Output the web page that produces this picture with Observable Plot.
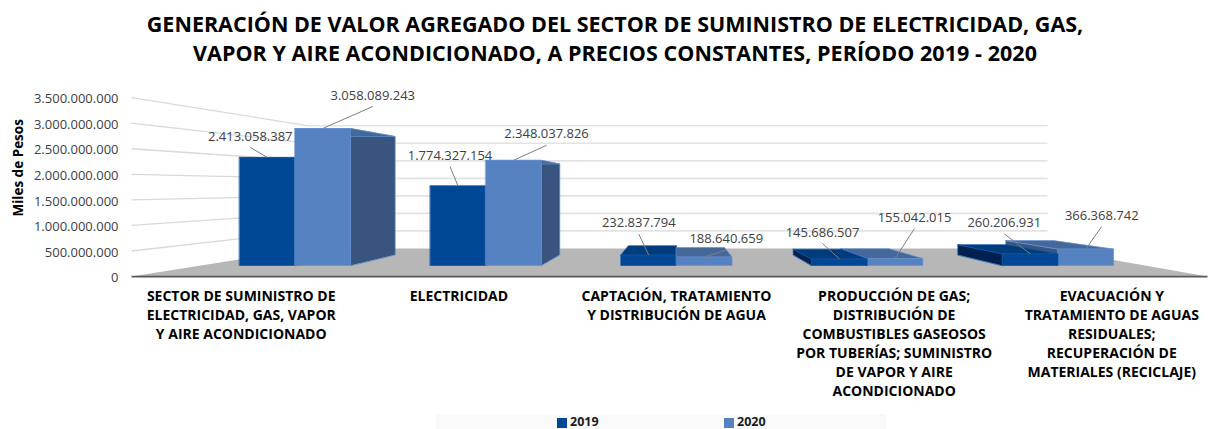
<!DOCTYPE html>
<html><head><meta charset="utf-8">
<script src="https://cdn.jsdelivr.net/npm/d3@7"></script>
<script src="https://cdn.jsdelivr.net/npm/@observablehq/plot@0.6"></script>
<style>
html,body{margin:0;padding:0;background:#fff;overflow:hidden;width:1209px;height:429px;font-family:"Open Sans",sans-serif}
#title{height:80px;box-sizing:border-box;padding-top:10px;text-align:center;font-weight:700;font-size:21.5px;line-height:28.5px;color:#000;width:1230px}
#title span{letter-spacing:.05px}
#chart{height:333px}
#chart svg{display:block}
#legend{position:absolute;left:436px;top:414px;width:450px;height:15px;background:#f9f9f9;font-weight:700;font-size:12.5px;color:#1a1a1a}
#legend span{position:absolute;top:1px;line-height:14px}
#legend i{position:absolute;top:4px;width:10px;height:10px}
</style></head>
<body>
<div id="title">GENERACIÓN DE VALOR AGREGADO DEL SECTOR DE SUMINISTRO DE ELECTRICIDAD, GAS,<br><span>VAPOR Y AIRE ACONDICIONADO, A PRECIOS CONSTANTES, PERÍODO 2019 - 2020</span></div>
<div id="chart"></div>
<div id="legend"><i style="left:121px;background:#004896"></i><span style="left:134px">2019</span><i style="left:288px;background:#5682c1"></i><span style="left:301px">2020</span></div>
<script>
const categories = [
  "SECTOR DE SUMINISTRO DE\nELECTRICIDAD, GAS, VAPOR\nY AIRE ACONDICIONADO",
  "ELECTRICIDAD",
  "CAPTACIÓN, TRATAMIENTO\nY DISTRIBUCIÓN DE AGUA",
  "PRODUCCIÓN DE GAS;\nDISTRIBUCIÓN DE\nCOMBUSTIBLES GASEOSOS\nPOR TUBERÍAS; SUMINISTRO\nDE VAPOR Y AIRE\nACONDICIONADO",
  "EVACUACIÓN Y\nTRATAMIENTO DE AGUAS\nRESIDUALES;\nRECUPERACIÓN DE\nMATERIALES (RECICLAJE)"
];
const values2019 = [2413058387, 1774327154, 232837794, 145686507, 260206931];
const values2020 = [3058089243, 2348037826, 188640659, 155042015, 366368742];
const yTicks = [0, 500000000, 1000000000, 1500000000, 2000000000, 2500000000, 3000000000, 3500000000];

// label offsets from the bar's top-centre, in pixels
const labelDx2019 = [-17, -8, -10, -17, -26];
const labelDy2019 = [-21, -30.5, -32, -26.5, -31];
const labelDx2020 = [50, 33, 22, 19.5, 16];
const labelDy2020 = [-33, -26, -18, -41, -33.6];

const fmt = d3.formatLocale({decimal: ",", thousands: ".", grouping: [3], currency: ["$", ""]}).format(",d");

// perspective: everything recedes toward the vanishing point at (category 2, half the y domain)
const vpX = 2, vpY = 1750e6;
const sAxis = 1.141, sBack = 0.782, sBar = 0.863, barW = 0.291;
const P = (x, v, s) => ({x: vpX + s * (x - vpX), y: vpY + s * (v - vpY)});
const pxPerCat = 190.75, pxPerVal = 0.0448e-6;

const wall = {frontL: -0.504, frontR: 4.44, backL: -0.467, backR: 4.487};

const colors = {
  2019: {front: "#004896", top: "#003b7c", side: "#00214f", edge: "#0f55a8"},
  2020: {front: "#5682c1", top: "#44689a", side: "#38557f", edge: "#6491d0"}
};

// faces of every bar, painted far-to-near
const faces = [];
categories.forEach((_, i) => {
  const bars = [
    {s: 2019, v: values2019[i], x0: i - barW, x1: i},
    {s: 2020, v: values2020[i], x0: i, x1: i + barW}
  ];
  if (i > vpX) bars.reverse();
  bars.forEach(b => {
    const c = colors[b.s];
    const add = (name, fill, pts) => pts.forEach(p => faces.push({id: `${i}-${b.s}-${name}`, fill, edge: c.edge, ...p}));
    const sx = b.x1 <= vpX ? b.x1 : b.x0;
    if (sx !== vpX) add("side", c.side, [P(sx, 0, 1), P(sx, b.v, 1), P(sx, b.v, sBar), P(sx, 0, sBar)]);
    add("top", c.top, [P(b.x0, b.v, 1), P(b.x1, b.v, 1), P(b.x1, b.v, sBar), P(b.x0, b.v, sBar)]);
    add("front", c.front, [P(b.x0, 0, 1), P(b.x1, 0, 1), P(b.x1, b.v, 1), P(b.x0, b.v, 1)]);
  });
});

const floor = [P(wall.frontL, 0, sAxis), P(wall.frontR, 0, sAxis), P(wall.backR, 0, sBack), P(wall.backL, 0, sBack)];
const sideGrid = yTicks.slice(1).map(v => {
  const a = P(wall.frontL, v, sAxis), b = P(wall.backL, v, sBack);
  return {x1: a.x, y1: a.y, x2: b.x, y2: b.y};
});
const backGrid = yTicks.slice(1).map(v => {
  const a = P(wall.backL, v, sBack), b = P(wall.backR, v, sBack);
  return {x1: a.x, y1: a.y, x2: b.x, y2: b.y};
});
const baseA = P(wall.frontL, 0, sAxis), baseB = P(wall.frontR, 0, sAxis);

const tickRows = yTicks.map(v => ({label: fmt(v), ...P(wall.frontL, v, sAxis)}));
const catRows = categories.map((label, i) => ({label, ...P(i, 0, sAxis)}));

const valueRows = [];
[[values2019, labelDx2019, labelDy2019, -barW / 2], [values2020, labelDx2020, labelDy2020, barW / 2]].forEach(([vals, dxs, dys, off]) => {
  vals.forEach((v, i) => {
    const ax = i + off;
    valueRows.push({
      label: fmt(v), x1: ax, y1: v,
      x: ax + dxs[i] / pxPerCat, y: v - dys[i] / pxPerVal,
      x2: ax + dxs[i] / pxPerCat, y2: v - (dys[i] + 11) / pxPerVal
    });
  });
});

const plot = Plot.plot({
  width: 1209, height: 333,
  margin: 0,
  x: {type: "linear", domain: [0, 4], range: [294.5, 1057.5], axis: null},
  y: {type: "linear", domain: [0, 3500e6], range: [185, 28.2], axis: null},
  style: {fontFamily: '"Open Sans", sans-serif', background: "transparent", overflow: "hidden"},
  marks: [
    Plot.link(sideGrid, {x1: "x1", y1: "y1", x2: "x2", y2: "y2", stroke: "#d9d9d9", strokeWidth: 1.3}),
    Plot.link(backGrid, {x1: "x1", y1: "y1", x2: "x2", y2: "y2", stroke: "#e3e3e3", strokeWidth: 1.6}),
    Plot.line(floor, {x: "x", y: "y", fill: "#b7b7b7", stroke: "none", curve: "linear-closed"}),
    Plot.link([{x1: baseA.x, y1: baseA.y, x2: baseB.x, y2: baseB.y}], {x1: "x1", y1: "y1", x2: "x2", y2: "y2", stroke: "#595959", strokeWidth: 1.8}),
    Plot.line(faces, {x: "x", y: "y", z: "id", fill: "fill", stroke: "edge", strokeWidth: 0.7, curve: "linear-closed"}),
    Plot.link(valueRows, {x1: "x1", y1: "y1", x2: "x2", y2: "y2", stroke: "#7f7f7f", strokeWidth: 1}),
    Plot.text(valueRows, {x: "x", y: "y", text: "label", fill: "#404040", fontSize: 13}),
    Plot.text(tickRows, {x: "x", y: "y", text: "label", textAnchor: "end", dx: -13, dy: 1.5, fill: "#404040", fontSize: 13}),
    Plot.text(catRows, {x: "x", y: "y", text: "label", dy: 11, lineAnchor: "top", lineHeight: 1.357, fontWeight: 700, fill: "#000", fontSize: 14}),
    Plot.text(["Miles de Pesos"], {frameAnchor: "left", dx: 18, y: [2180e6], text: d => d, textAnchor: "middle", rotate: -90, fontWeight: 700, fill: "#000", fontSize: 13.5})
  ]
});
document.getElementById("chart").appendChild(plot);
</script>
</body></html>
